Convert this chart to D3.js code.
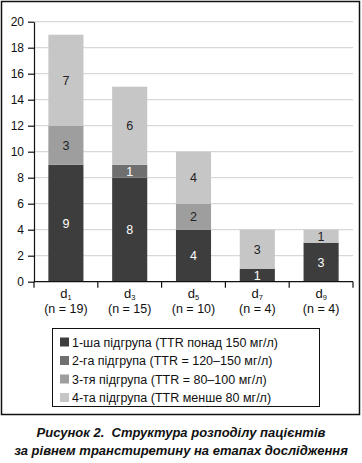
<!DOCTYPE html>
<html>
<head>
<meta charset="utf-8">
<script src="https://cdn.jsdelivr.net/npm/d3@7"></script>
<style>
  body { margin: 0; background: #fff; }
  svg { display: block; font-family: "Liberation Sans", Arial, sans-serif; }
</style>
</head>
<body>
<svg id="chart" width="362" height="463"></svg>
<script>
// Stage labels (d with subscript) and group sizes
const stages = ['1', '3', '5', '7', '9'];
const stageN = [19, 15, 10, 4, 4];

// Patient counts per subgroup, by stage
const group1 = [9, 8, 4, 1, 3];
const group2 = [0, 1, 0, 0, 0];
const group3 = [3, 0, 2, 0, 0];
const group4 = [7, 6, 4, 3, 1];

const groupNames = [
  '1-ша підгрупа (TTR понад 150 мг/л)',
  '2-га підгрупа (TTR = 120–150 мг/л)',
  '3-тя підгрупа (TTR = 80–100 мг/л)',
  '4-та підгрупа (TTR менше 80 мг/л)'
];
const yTicks = [0, 2, 4, 6, 8, 10, 12, 14, 16, 18, 20];

const colors = ['#3d3d3d', '#6f6f6f', '#9e9e9e', '#c6c6c6'];
const labelColors = ['#fff', '#fff', '#222', '#222'];

const svg = d3.select('#chart');

// Outer frame
svg.append('rect')
  .attr('x', 1.5).attr('y', 1.5)
  .attr('width', 358).attr('height', 413)
  .attr('fill', 'none')
  .attr('stroke', '#111')
  .attr('stroke-width', 1.5);

const plotLeft = 34, plotRight = 353, plotTop = 21.7, plotBottom = 281.7;

const x = d3.scaleBand()
  .domain(stages)
  .range([plotLeft, plotRight])
  .paddingInner(0.45)
  .paddingOuter(0.225);

const y = d3.scaleLinear()
  .domain([0, 20])
  .range([plotBottom, plotTop]);

// Gridlines
svg.append('g')
  .selectAll('line')
  .data(yTicks.filter(d => d > 0))
  .join('line')
  .attr('x1', plotLeft).attr('x2', plotRight)
  .attr('y1', d => y(d)).attr('y2', d => y(d))
  .attr('stroke', '#cfcfcf')
  .attr('stroke-width', 1);

// Stacked data
const rows = stages.map((s, i) => ({ stage: s, g0: group1[i], g1: group2[i], g2: group3[i], g3: group4[i] }));
const stack = d3.stack().keys(['g0', 'g1', 'g2', 'g3']);
const series = stack(rows);

const layers = svg.append('g')
  .selectAll('g')
  .data(series)
  .join('g')
  .attr('fill', (d, i) => colors[i]);

layers.selectAll('rect')
  .data(d => d)
  .join('rect')
  .attr('x', d => x(d.data.stage))
  .attr('width', x.bandwidth())
  .attr('y', d => y(d[1]))
  .attr('height', d => y(d[0]) - y(d[1]));

// Segment value labels
series.forEach((s, i) => {
  svg.append('g')
    .selectAll('text')
    .data(s.filter(d => d[1] - d[0] > 0))
    .join('text')
    .attr('x', d => x(d.data.stage) + x.bandwidth() / 2)
    .attr('y', d => y((d[0] + d[1]) / 2))
    .attr('dy', '0.36em')
    .attr('text-anchor', 'middle')
    .attr('font-size', 12.5)
    .attr('fill', labelColors[i])
    .text(d => d[1] - d[0]);
});

// Y axis
const yAxis = d3.axisLeft(y)
  .tickValues(yTicks)
  .tickSize(6)
  .tickSizeOuter(0)
  .tickPadding(4);

const yg = svg.append('g')
  .attr('transform', `translate(${plotLeft},0)`)
  .call(yAxis);
yg.select('.domain').attr('stroke', '#111').attr('stroke-width', 1.2);
yg.selectAll('.tick line').attr('stroke', '#111').attr('stroke-width', 1.2);
yg.selectAll('.tick text')
  .attr('font-size', 12)
  .attr('font-family', '"Liberation Sans", Arial, sans-serif')
  .attr('fill', '#111');

// X axis line and boundary ticks
const step = x.step();
svg.append('line')
  .attr('x1', plotLeft).attr('x2', plotRight)
  .attr('y1', plotBottom).attr('y2', plotBottom)
  .attr('stroke', '#111').attr('stroke-width', 1.2);
svg.append('g')
  .selectAll('line')
  .data(d3.range(stages.length + 1))
  .join('line')
  .attr('x1', i => plotLeft + i * step)
  .attr('x2', i => plotLeft + i * step)
  .attr('y1', plotBottom).attr('y2', plotBottom + 6)
  .attr('stroke', '#111').attr('stroke-width', 1.2);

// X labels
const xl = svg.append('g')
  .selectAll('g')
  .data(stages)
  .join('g')
  .attr('transform', d => `translate(${x(d) + x.bandwidth() / 2},0)`);

const dLabel = xl.append('text')
  .attr('y', 298)
  .attr('text-anchor', 'middle')
  .attr('font-size', 13)
  .attr('fill', '#111');
dLabel.append('tspan').text('d');
dLabel.append('tspan')
  .attr('font-size', 7.5)
  .attr('dy', 2)
  .text(d => d);

xl.append('text')
  .attr('y', 313)
  .attr('text-anchor', 'middle')
  .attr('font-size', 12.5)
  .attr('fill', '#111')
  .text((d, i) => `(n = ${stageN[i]})`);

// Legend
const legend = svg.append('g');
legend.append('rect')
  .attr('x', 52.5).attr('y', 328.5)
  .attr('width', 267).attr('height', 78)
  .attr('fill', 'none')
  .attr('stroke', '#111')
  .attr('stroke-width', 1);

const items = legend.selectAll('g')
  .data(groupNames)
  .join('g')
  .attr('transform', (d, i) => `translate(60,${342 + i * 18.5})`);
items.append('rect')
  .attr('x', 0).attr('y', -4.5)
  .attr('width', 9).attr('height', 9)
  .attr('fill', (d, i) => colors[i]);
items.append('text')
  .attr('x', 12)
  .attr('dy', '0.36em')
  .attr('font-size', 12.5)
  .attr('fill', '#111')
  .text(d => d);

// Caption
const caption = ['Рисунок 2.  Структура розподілу пацієнтів', 'за рівнем транстиретину на етапах дослідження'];
svg.append('g')
  .selectAll('text')
  .data(caption)
  .join('text')
  .attr('x', 181)
  .attr('y', (d, i) => 437 + i * 18)
  .attr('text-anchor', 'middle')
  .attr('font-size', 13)
  .attr('font-weight', 'bold')
  .attr('font-style', 'italic')
  .attr('fill', '#111')
  .attr('xml:space', 'preserve')
  .style('white-space', 'pre')
  .text(d => d);
</script>
</body>
</html>
